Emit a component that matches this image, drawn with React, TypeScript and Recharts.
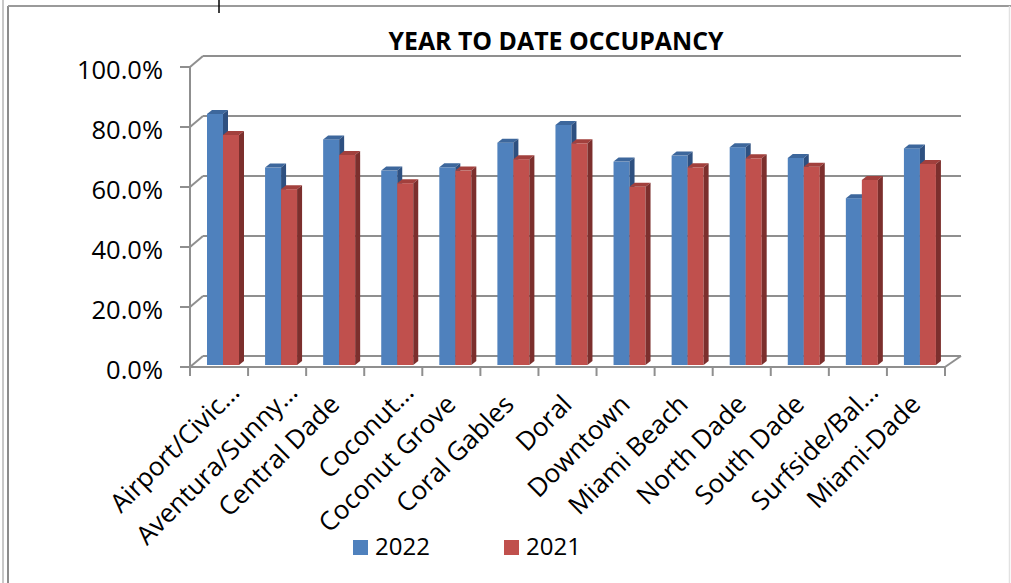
import React from "react";
import { BarChart, Bar, XAxis, YAxis, CartesianGrid } from "recharts";

const categories = [
  "Airport/Civic…",
  "Aventura/Sunny…",
  "Central Dade",
  "Coconut…",
  "Coconut Grove",
  "Coral Gables",
  "Doral",
  "Downtown",
  "Miami Beach",
  "North Dade",
  "South Dade",
  "Surfside/Bal…",
  "Miami-Dade",
];

const values2022 = [0.837, 0.658, 0.752, 0.648, 0.659, 0.741, 0.8, 0.678, 0.698, 0.726, 0.69, 0.556, 0.722];
const values2021 = [0.767, 0.586, 0.7, 0.606, 0.648, 0.686, 0.739, 0.594, 0.659, 0.689, 0.661, 0.617, 0.67];

const yTicks = [0, 0.2, 0.4, 0.6, 0.8, 1];
const seriesNames = ["2022", "2021"];

const W = 1011;
const H = 583;
const PLOT_LEFT = 190;
const PLOT_TOP = 67;
const PLOT_W = 755;
const PLOT_H = 300;
const DEPTH_X = 14;
const DEPTH_Y = -11;
const GRID = "#8f8f8f";
const FONT = "'Open Sans', 'DejaVu Sans', sans-serif";

const palette = [
  { front: "#4F81BD", top: "#3D679C", side: "#2E5080" },
  { front: "#C0504D", top: "#A2403D", side: "#7C2F2D" },
];

const data = categories.map((name, i) => ({
  name,
  s2022: values2022[i],
  s2021: values2021[i],
}));

function Bar3D(props: any) {
  const { x, y, width, height, colors } = props;
  if (x == null || y == null) return null;
  const fx = x + 4;
  const fy = y - 2;
  const w = width;
  const h = height;
  const dx = 5;
  const dy = -4;
  return (
    <g>
      <rect x={fx} y={fy} width={w} height={h} fill={colors.front} />
      <polygon
        points={`${fx},${fy} ${fx + dx},${fy + dy} ${fx + w + dx},${fy + dy} ${fx + w},${fy}`}
        fill={colors.top}
      />
      <polygon
        points={`${fx + w},${fy} ${fx + w + dx},${fy + dy} ${fx + w + dx},${fy + h + dy} ${fx + w},${fy + h}`}
        fill={colors.side}
      />
    </g>
  );
}

function YTick(props: any) {
  const { x, y, payload } = props;
  return (
    <text
      x={x}
      y={y + 2}
      textAnchor="end"
      dominantBaseline="central"
      fontFamily={FONT}
      fontSize={25.5}
      fill="#000"
    >
      {(payload.value * 100).toFixed(1) + "%"}
    </text>
  );
}

function XTick(props: any) {
  const { payload, index } = props;
  const cx = payload.coordinate;
  const axisY = PLOT_TOP + PLOT_H;
  const bw = PLOT_W / categories.length;
  const label = String(payload.value);
  const truncated = label.endsWith("…");
  const ax = truncated ? cx + 22 : cx + 6;
  const ay = truncated ? 394 : 406;
  return (
    <g>
      <line x1={cx - bw / 2} y1={axisY} x2={cx - bw / 2} y2={axisY + 9} stroke={GRID} strokeWidth={2} />
      {index === categories.length - 1 && (
        <line x1={cx + bw / 2} y1={axisY} x2={cx + bw / 2} y2={axisY + 9} stroke={GRID} strokeWidth={2} />
      )}
      <text
        x={ax}
        y={ay}
        textAnchor="end"
        fontFamily={FONT}
        fontSize={26}
        fill="#000"
        transform={`rotate(-45 ${ax} ${ay})`}
      >
        {label}
      </text>
    </g>
  );
}

function GridLine(props: any) {
  const { x1, y1, x2, index } = props;
  const by = y1 + DEPTH_Y;
  const bx = x1 + DEPTH_X - 1;
  const isBottom = Math.abs(y1 - (PLOT_TOP + PLOT_H)) < 1;
  return (
    <g key={`g-${index}`}>
      <line x1={x1} y1={y1} x2={bx} y2={by} stroke={GRID} strokeWidth={2} />
      <line x1={bx} y1={by} x2={x2 + DEPTH_X + 2} y2={by} stroke={GRID} strokeWidth={2} />
      {isBottom && (
        <line x1={x2} y1={y1} x2={x2 + DEPTH_X + 2} y2={by} stroke={GRID} strokeWidth={2} />
      )}
    </g>
  );
}

export default function App() {
  return (
    <div style={{ position: "absolute", left: 0, top: 0, width: W, height: H, background: "#fff" }}>
      <BarChart
        width={W}
        height={H}
        data={data}
        margin={{ top: PLOT_TOP, right: W - PLOT_LEFT - PLOT_W, bottom: 0, left: 0 }}
        barSize={16}
        barGap={0}
      >
        <CartesianGrid vertical={false} horizontal={(p: any) => <GridLine {...p} />} />
        <YAxis
          type="number"
          domain={[0, 1]}
          ticks={yTicks}
          width={PLOT_LEFT}
          tickSize={10}
          tickMargin={17}
          axisLine={{ stroke: GRID, strokeWidth: 2 }}
          tickLine={{ stroke: GRID, strokeWidth: 2 }}
          tick={<YTick />}
          interval={0}
        />
        <XAxis
          dataKey="name"
          height={H - PLOT_TOP - PLOT_H}
          interval={0}
          tickSize={0}
          tickMargin={0}
          axisLine={{ stroke: GRID, strokeWidth: 2 }}
          tickLine={false}
          tick={<XTick />}
        />
        <Bar
          dataKey="s2022"
          name={seriesNames[0]}
          isAnimationActive={false}
          shape={(p: any) => <Bar3D {...p} colors={palette[0]} />}
        />
        <Bar
          dataKey="s2021"
          name={seriesNames[1]}
          isAnimationActive={false}
          shape={(p: any) => <Bar3D {...p} colors={palette[1]} />}
        />
      </BarChart>
      <svg
        width={W}
        height={H}
        style={{ position: "absolute", left: 0, top: 0, pointerEvents: "none" }}
      >
        <line x1={3} y1={0} x2={3} y2={H} stroke="#c8c8c8" strokeWidth={2} />
        <line x1={8} y1={6} x2={8} y2={H} stroke="#8c8c8c" strokeWidth={2} />
        <line x1={8} y1={6} x2={W} y2={6} stroke="#9a9a9a" strokeWidth={2} />
        <line x1={1009.5} y1={6} x2={1009.5} y2={H} stroke="#e2e2e2" strokeWidth={1.5} />
        <line x1={219} y1={0} x2={219} y2={13} stroke="#000" strokeWidth={1.5} />
        <text
          x={556}
          y={50}
          textAnchor="middle"
          fontFamily="'Liberation Sans Narrow', 'Arial Narrow', 'Open Sans', sans-serif"
          fontWeight="bold"
          fontSize={25}
          textLength={335}
          lengthAdjust="spacingAndGlyphs"
          fill="#000"
        >
          YEAR TO DATE OCCUPANCY
        </text>
        {seriesNames.map((n, i) => {
          const lx = i === 0 ? 353 : 504;
          return (
            <g key={n}>
              <rect x={lx} y={540} width={15} height={15} fill={palette[i].front} />
              <text x={lx + 22} y={555} fontFamily={FONT} fontSize={24} fill="#000">
                {n}
              </text>
            </g>
          );
        })}
      </svg>
    </div>
  );
}
